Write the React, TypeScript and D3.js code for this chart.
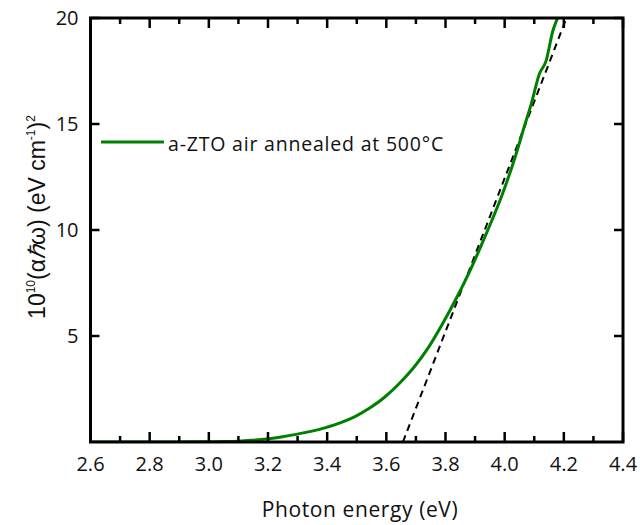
import React from "react";
import * as d3 from "d3";

const energy = [2.6, 2.7, 2.8, 2.9, 3.0, 3.05, 3.1, 3.145, 3.195, 3.245, 3.295, 3.345, 3.395, 3.444, 3.494, 3.544, 3.593, 3.643, 3.692, 3.742, 3.791, 3.841, 3.89, 3.94, 3.99, 4.039, 4.069, 4.089, 4.117, 4.14, 4.163, 4.179];
const tauc = [0, 0, 0, 0.005, 0.01, 0.02, 0.04, 0.08, 0.14, 0.24, 0.36, 0.5, 0.68, 0.9, 1.2, 1.6, 2.1, 2.75, 3.5, 4.45, 5.6, 6.9, 8.3, 9.9, 11.6, 13.6, 15.0, 15.9, 17.35, 17.98, 19.4, 20];
const fitX = [3.656, 4.209];
const fitY = [0, 20];
const xTicks = [2.6, 2.8, 3.0, 3.2, 3.4, 3.6, 3.8, 4.0, 4.2, 4.4];
const xMinor = [2.7, 2.9, 3.1, 3.3, 3.5, 3.7, 3.9, 4.1, 4.3];
const yTicks = [5, 10, 15, 20];
const legendLabel = "a-ZTO air annealed at 500°C";

const W = 640, H = 525;
const M = { left: 90.5, right: 623, top: 18, bottom: 442 };
const FONT = "'Open Sans', sans-serif";

export default function App() {
  const x = d3.scaleLinear().domain([2.6, 4.4]).range([M.left, M.right]);
  const y = d3.scaleLinear().domain([0, 20]).range([M.bottom, M.top]);
  const line = d3.line<[number, number]>().x(d => x(d[0])).y(d => y(d[1])).curve(d3.curveMonotoneX);
  const pts: [number, number][] = energy.map((e, i) => [e, tauc[i]]);
  const fit: [number, number][] = fitX.map((e, i) => [e, fitY[i]]);
  const fitLine = d3.line<[number, number]>().x(d => x(d[0])).y(d => y(d[1]));
  const major = 10, minor = 6, yMajor = 9;
  return (
    <svg width={W} height={H} style={{ position: "absolute", left: 0, top: 0 }} fontFamily={FONT}>
      <rect width={W} height={H} fill="#fff" />
      <defs>
        <clipPath id="clip"><rect x={M.left} y={M.top} width={M.right - M.left} height={M.bottom - M.top} /></clipPath>
      </defs>
      <path d={fitLine(fit) || ""} fill="none" stroke="#000" strokeWidth={2} strokeDasharray="7,5" clipPath="url(#clip)" />
      <path d={line(pts) || ""} fill="none" stroke="#008000" strokeWidth={3} clipPath="url(#clip)" />
      {xTicks.map(t => (
        <g key={"xt" + t}>
          <line x1={x(t)} x2={x(t)} y1={M.bottom} y2={M.bottom - major} stroke="#000" strokeWidth={2.5} />
          <line x1={x(t)} x2={x(t)} y1={M.top} y2={M.top + major} stroke="#000" strokeWidth={2.5} />
          <text x={x(t)} y={M.bottom + 29} textAnchor="middle" fontSize={20} fill="#111">{t.toFixed(1)}</text>
        </g>
      ))}
      {xMinor.map(t => (
        <g key={"xm" + t}>
          <line x1={x(t)} x2={x(t)} y1={M.bottom} y2={M.bottom - minor} stroke="#000" strokeWidth={2.5} />
          <line x1={x(t)} x2={x(t)} y1={M.top} y2={M.top + minor} stroke="#000" strokeWidth={2.5} />
        </g>
      ))}
      {yTicks.map(t => (
        <g key={"yt" + t}>
          <line x1={M.left} x2={M.left + yMajor} y1={y(t)} y2={y(t)} stroke="#000" strokeWidth={2.5} />
          <line x1={M.right} x2={M.right - yMajor} y1={y(t)} y2={y(t)} stroke="#000" strokeWidth={2.5} />
          <text x={M.left - 12} y={y(t) + 7} textAnchor="end" fontSize={20} fill="#111">{t}</text>
        </g>
      ))}
      <rect x={M.left} y={M.top} width={M.right - M.left} height={M.bottom - M.top} fill="none" stroke="#000" strokeWidth={3} />
      <line x1={101} x2={164} y1={142} y2={142} stroke="#008000" strokeWidth={3} />
      <text x={168} y={151} fontSize={19.5} letterSpacing={0.8} fill="#111">{legendLabel}</text>
      <text x={360} y={517} textAnchor="middle" fontSize={21} letterSpacing={0.6} fill="#111">Photon energy (eV)</text>
      <text transform={`translate(45, 217) rotate(-90)`} textAnchor="middle" fontSize={23} fontFamily="'Liberation Sans', Arial, sans-serif" fill="#111">
        10<tspan fontSize={12} dy={-10}>10</tspan><tspan dy={10}>(α</tspan><tspan fontStyle="italic">ℏ</tspan><tspan>ω) (eV cm</tspan><tspan fontSize={12} dy={-10}>-1</tspan><tspan dy={10}>)</tspan><tspan fontSize={12} dy={-10}>2</tspan>
      </text>
    </svg>
  );
}
